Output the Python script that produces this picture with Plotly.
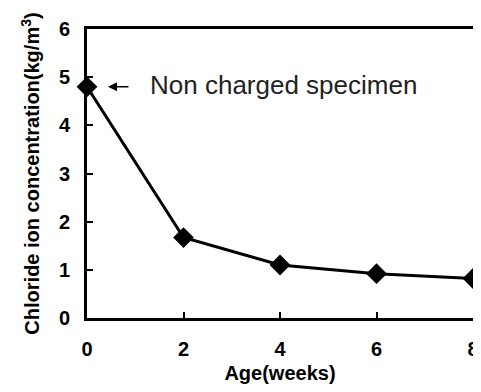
import plotly.graph_objects as go

ages = [0, 2, 4, 6, 8]
chloride = [4.8, 1.67, 1.1, 0.92, 0.82]
x_ticks = [0, 2, 4, 6, 8]
y_ticks = [0, 1, 2, 3, 4, 5, 6]
note = "Non charged specimen"

fig = go.Figure()
fig.add_trace(go.Scatter(
    x=ages, y=chloride, mode="lines+markers",
    line=dict(color="black", width=3),
    marker=dict(symbol="diamond", size=16, color="black"),
    cliponaxis=False, showlegend=False,
))

fig.add_annotation(x=0.435, y=4.8, ax=22, ay=0, axref="pixel", ayref="pixel",
                   text="", showarrow=True, arrowhead=2, arrowsize=1.2,
                   arrowwidth=1.5, arrowcolor="black")
fig.add_annotation(x=1.26, y=4.83, text=note, showarrow=False, xanchor="left",
                   font=dict(family="Arial, Liberation Sans", size=26, color="#222"))

axis_common = dict(showline=True, linecolor="black", linewidth=3, mirror=True,
                   ticks="inside", ticklen=6, tickwidth=1.5, tickcolor="black",
                   showgrid=False, zeroline=False, automargin=False,
                   ticklabeloverflow="allow",
                   tickfont=dict(family="Arial, Liberation Sans", size=20, color="black",
                                 weight="bold"))

fig.update_xaxes(range=[0, 8], tickvals=x_ticks, ticklabelstandoff=11,
                 title=dict(text="<b>Age(weeks)</b>", standoff=9,
                            font=dict(family="Arial, Liberation Sans", size=20, color="black")),
                 **axis_common)
fig.update_yaxes(range=[0, 6], tickvals=y_ticks, ticklabelstandoff=10,
                 title=dict(text="<b>Chloride ion concentration(kg/m<sup>3</sup>)</b>", standoff=14,
                            font=dict(family="Arial, Liberation Sans", size=20, color="black")),
                 **axis_common)

fig.update_layout(width=473, height=376, margin=dict(l=79, r=8, t=21, b=66),
                  paper_bgcolor="white", plot_bgcolor="white")
fig.write_html("out.html")
